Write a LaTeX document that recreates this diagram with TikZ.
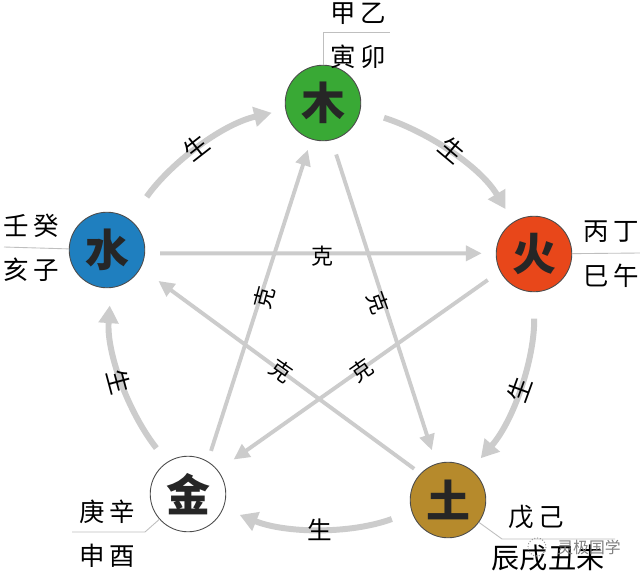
\documentclass[tikz,border=0pt]{standalone}
\usepackage{fontspec}
\setmainfont{Noto Sans CJK SC}
\usetikzlibrary{arrows.meta}
\definecolor{mugreen}{HTML}{39A935}
\definecolor{huored}{HTML}{E8471A}
\definecolor{tugold}{HTML}{B68A2C}
\definecolor{shuiblue}{HTML}{1F7FBF}
\definecolor{linegray}{HTML}{CCCCCC}
\tikzset{
  elem/.style={circle,draw=black!70,line width=0.5pt,minimum size=43pt,inner sep=0pt,font=\fontsize{25}{25}\selectfont\bfseries,text=black!85},
  ke/.style={draw=linegray,line width=2.2pt,-{Triangle[length=9pt,width=8.5pt]}},
  sheng/.style={draw=linegray,line width=3.4pt,looseness=0.9,-{Triangle[length=10pt,width=11pt]}},
  kelabel/.style={inner sep=0pt,font=\fontsize{12.5}{12.5}\selectfont},
  shenglabel/.style={inner sep=0pt,font=\fontsize{14}{14}\selectfont},
  stem/.style={inner sep=0pt,font=\fontsize{14.5}{14.5}\selectfont},
  rule/.style={draw=black!25,line width=0.5pt}
}
\begin{document}
\begin{tikzpicture}[x=0.02cm,y=-0.02cm]
\useasboundingbox (0,0) rectangle (640,576);
\fill[white] (0,0) rectangle (640,576);
% free ends of the rules
\coordinate (ma) at (323,32); \coordinate (mb) at (390,32);
\coordinate (ha) at (640,253);
\coordinate (sa) at (4,247);
\coordinate (ja) at (145,532); \coordinate (jb) at (72,532);
\coordinate (ta) at (502,539); \coordinate (tb) at (615,539);
% elements
\node[elem,fill=mugreen] (mu) at (323,103) {木};
\node[elem,fill=huored] (huo) at (534,254) {火};
\node[elem,fill=tugold] (tu) at (448,500) {土};
\node[elem,fill=white] (jin) at (188,494) {金};
\node[elem,fill=shuiblue] (shui) at (107,250) {水};
% rules
\draw[rule] (mu) -- (ma) -- (mb);
\draw[rule] (huo) -- (ha);
\draw[rule] (shui) -- (sa);
\draw[rule] (jin) -- (ja) -- (jb);
\draw[rule] (tu) -- (ta) -- (tb);
% ke connectors
\draw[ke,shorten <=8.5pt,shorten >=8pt] (shui.-5.4) -- (huo.179);
\draw[ke,shorten <=6.2pt,shorten >=6.2pt] (jin.59) -- (mu.-108);
\draw[ke,shorten <=8.5pt,shorten >=8pt] (mu.-77) -- (tu.108);
\draw[ke,shorten <=4.5pt,shorten >=12.5pt] (tu.136) -- (shui.-28);
\draw[ke,shorten <=8.5pt,shorten >=10.8pt] (huo.-153) -- (jin.38);
% sheng connectors
\draw[sheng,shorten <=14pt,shorten >=8.5pt] (mu.-11) to[out=-17.6,in=120.7] (huo.123);
\draw[sheng,shorten <=15pt,shorten >=8.5pt] (huo.-90) to[out=-89.5,in=49] (tu.53);
\draw[sheng,shorten <=12pt,shorten >=10pt] (tu.-162) to[out=-160,in=-22] (jin.-22);
\draw[sheng,shorten <=10pt,shorten >=10pt] (jin.123) to[out=128,in=-94] (shui.-84);
\draw[sheng,shorten <=16pt,shorten >=8pt] (shui.52) to[out=55,in=-167] (mu.-170);
% ke labels
\node[kelabel] (k1) at (322,256) {克};
\node[kelabel,rotate=75] (k2) at (264,298) {克};
\node[kelabel,rotate=-70] (k3) at (378,303) {克};
\node[kelabel,rotate=-35] (k4) at (281,371) {克};
\node[kelabel,rotate=35] (k5) at (362,370) {克};
% sheng labels
\node[shenglabel,rotate=38] (s1) at (196,147) {生};
\node[shenglabel,rotate=-40] (s2) at (452,150) {生};
\node[shenglabel,rotate=70] (s3) at (520,390) {生};
\node[shenglabel] (s4) at (320,530) {生};
\node[shenglabel,rotate=-75] (s5) at (119,382) {生};
% stems
\node[stem] (t1) at (358,14) {甲\hspace{2.5pt}乙};
\node[stem] (t2) at (358,57) {寅\hspace{2.5pt}卯};
\node[stem] (t3) at (611,232) {丙\hspace{2.5pt}丁};
\node[stem] (t4) at (611,276) {巳\hspace{2.5pt}午};
\node[stem] (t5) at (31,226) {壬\hspace{2.5pt}癸};
\node[stem] (t6) at (31,270) {亥\hspace{2.5pt}子};
\node[stem] (t7) at (107,512) {庚\hspace{2.5pt}辛};
\node[stem] (t8) at (107,556) {申\hspace{2.5pt}酉};
\node[stem] (t9) at (536,517) {戊\hspace{2.5pt}己};
\node[stem,font=\fontsize{16}{16}\selectfont] (t10) at (548,558) {辰戌丑未};
\node[font=\fontsize{9}{9}\selectfont,text=black!50,inner sep=0pt] (wm) at (589,547) {灵极国学};
\draw[black!40,densely dotted,line width=0.6pt] (537,547) circle (9);
\end{tikzpicture}
\end{document}
